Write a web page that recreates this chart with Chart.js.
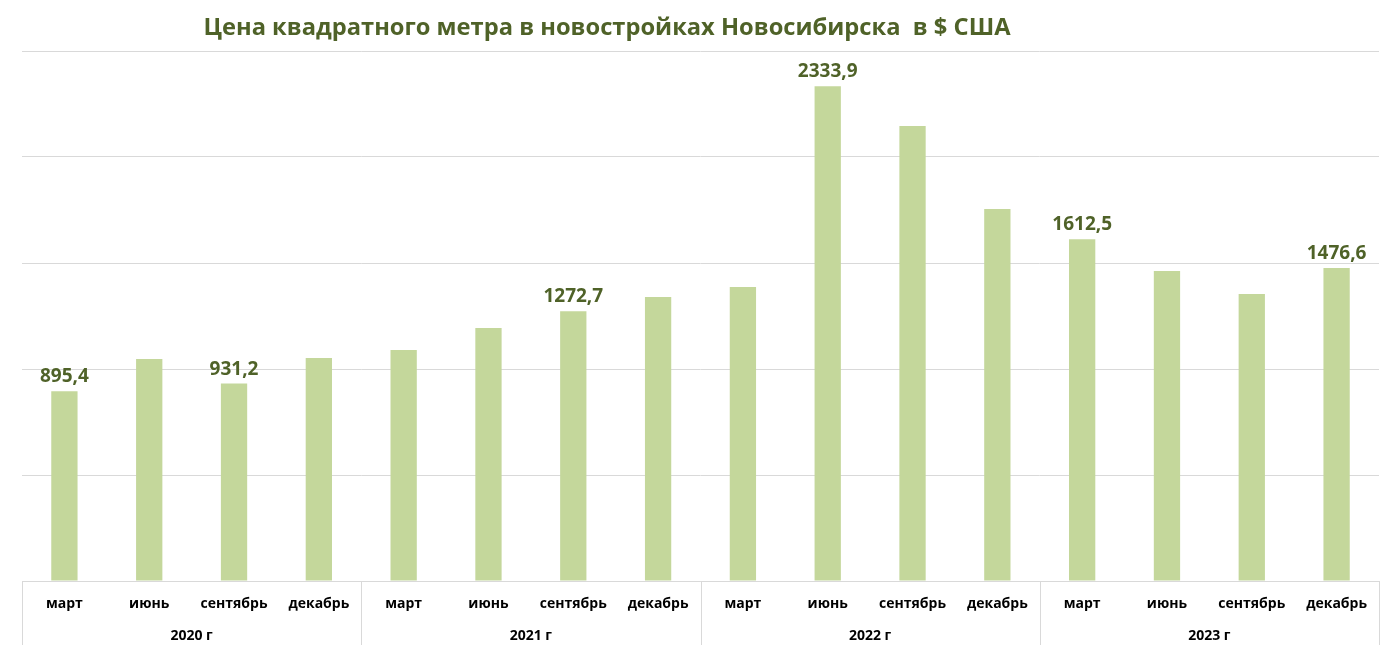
<!DOCTYPE html>
<html>
<head>
<meta charset="utf-8">
<script src="https://cdn.jsdelivr.net/npm/chart.js@4"></script>
<style>
  html, body { margin: 0; padding: 0; background: #fff; }
  #wrap { width: 1396px; height: 659px; }
</style>
</head>
<body>
<div id="wrap"><canvas id="chart"></canvas></div>
<script>
const titleText = "Цена квадратного метра в новостройках Новосибирска  в $ США";
const months = ["март", "июнь", "сентябрь", "декабрь"];
const years = ["2020 г", "2021 г", "2022 г", "2023 г"];
const prices = [
  895.4, 1047, 931.2, 1052,
  1090, 1193, 1272.7, 1340,
  1387, 2333.9, 2146, 1755,
  1612.5, 1462, 1354, 1476.6,
];
// bars that carry a value label in the original
const labelIdx = [0, 2, 6, 9, 12, 15];

const categories = [];
for (const y of years) {
  for (const m of months) categories.push(m);
}

const green = "#4F6228";
const font = "'Open Sans', 'Noto Sans', sans-serif";

const decorations = {
  id: "decorations",
  afterDraw: (chart) => {
    const ctx = chart.ctx;
    const area = chart.chartArea;
    const x = chart.scales.x;
    const y = chart.scales.y;
    const bottom = 645;

    ctx.save();
    // title
    ctx.fillStyle = green;
    ctx.font = "bold 23.7px " + font;
    ctx.textAlign = "center";
    ctx.textBaseline = "middle";
    ctx.fillText(titleText, 607, 28);

    // value labels
    ctx.font = "bold 19px " + font;
    ctx.textBaseline = "alphabetic";
    for (const i of labelIdx) {
      const v = prices[i];
      ctx.fillText(v.toFixed(1).replace(".", ","), x.getPixelForValue(i), y.getPixelForValue(v) - 9);
    }

    // axis lines and year dividers
    ctx.strokeStyle = "#D9D9D9";
    ctx.lineWidth = 1;
    ctx.beginPath();
    ctx.moveTo(area.left, area.bottom + 0.5);
    ctx.lineTo(area.right, area.bottom + 0.5);
    const per = months.length;
    for (let k = 0; k <= years.length; k++) {
      const idx = k * per - 0.5;
      const px = Math.round(x.getPixelForValue(idx)) + 0.5;
      ctx.moveTo(px, area.bottom);
      ctx.lineTo(px, bottom);
    }
    ctx.stroke();

    // month and year labels
    ctx.fillStyle = "#000";
    ctx.font = "bold 14px " + font;
    ctx.textBaseline = "middle";
    categories.forEach((m, i) => {
      ctx.fillText(m, x.getPixelForValue(i), 604);
    });
    years.forEach((yr, k) => {
      const mid = (x.getPixelForValue(k * per) + x.getPixelForValue(k * per + per - 1)) / 2;
      ctx.fillText(yr, mid, 636);
    });
    ctx.restore();
  },
};

new Chart(document.getElementById("chart"), {
  type: "bar",
  data: {
    labels: categories,
    datasets: [
      {
        data: prices,
        backgroundColor: "#C4D79B",
        categoryPercentage: 1,
        barPercentage: 0.31,
      },
    ],
  },
  options: {
    responsive: true,
    maintainAspectRatio: false,
    animation: false,
    layout: {
      padding: { left: 22, right: 17, top: 51, bottom: 78 },
    },
    plugins: {
      legend: { display: false },
      tooltip: { enabled: false },
    },
    scales: {
      x: {
        display: true,
        grid: { display: false },
        border: { display: false },
        ticks: { display: false },
        afterFit: (s) => { s.height = 0; },
      },
      y: {
        min: 0,
        max: 2500,
        ticks: { display: false, stepSize: 500 },
        grid: { color: "#D9D9D9", drawTicks: false },
        border: { display: false },
        afterFit: (s) => { s.width = 0; },
      },
    },
  },
  plugins: [decorations],
});
</script>
</body>
</html>
